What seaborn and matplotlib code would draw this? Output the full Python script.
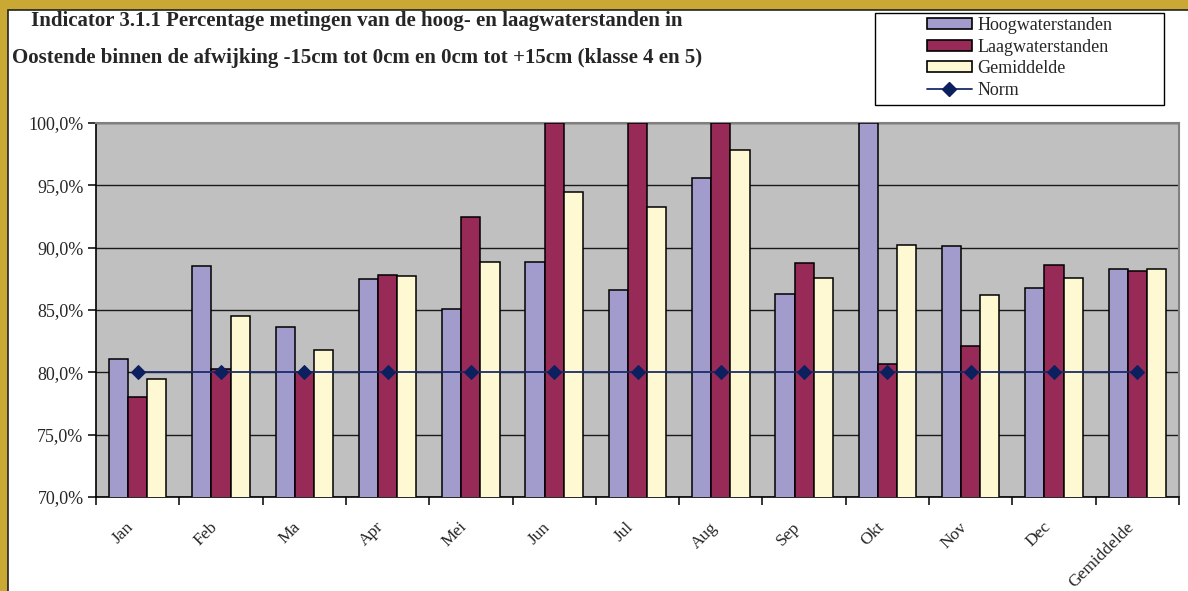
import matplotlib
matplotlib.use("Agg")
import matplotlib.pyplot as plt
import matplotlib.transforms as mtransforms
from matplotlib.patches import Rectangle, Patch
from matplotlib.lines import Line2D
from matplotlib.ticker import FuncFormatter, MultipleLocator, FixedLocator
import numpy as np
import pandas as pd
import seaborn as sns

# data
maanden = ["Jan", "Feb", "Ma", "Apr", "Mei", "Jun", "Jul", "Aug", "Sep", "Okt", "Nov", "Dec", "Gemiddelde"]
hoogwater = [81.1, 88.55, 83.6, 87.5, 85.1, 88.85, 86.6, 95.6, 86.3, 100.0, 90.1, 86.8, 88.3]
laagwater = [78.0, 80.3, 80.0, 87.8, 92.5, 100.0, 100.0, 100.0, 88.8, 80.7, 82.1, 88.6, 88.15]
gemiddelde = [79.5, 84.5, 81.8, 87.7, 88.85, 94.5, 93.3, 97.85, 87.6, 90.2, 86.2, 87.6, 88.3]
norm = [80.0] * 13
reeksen = ["Hoogwaterstanden", "Laagwaterstanden", "Gemiddelde"]
kleuren = ["#A29CCC", "#982A58", "#FEF9D3"]
titel = ["Indicator 3.1.1 Percentage metingen van de hoog- en laagwaterstanden in",
         "Oostende binnen de afwijking -15cm tot 0cm en 0cm tot +15cm (klasse 4 en 5)"]

df = pd.DataFrame({
    "maand": maanden * 3,
    "reeks": [r for r in reeksen for _ in maanden],
    "waarde": hoogwater + laagwater + gemiddelde,
})

sns.set_style("white")
plt.rcParams["font.family"] = ["Liberation Serif", "DejaVu Serif"]

W, H = 1188, 591
fig = plt.figure(figsize=(W / 100, H / 100), dpi=100)
fig.patch.set_facecolor("#C9A933")
# white chart area inside the gold border
fig.add_artist(Rectangle((8 / W, -0.01), 1.0, 1 - 10 / H + 0.01, transform=fig.transFigure,
                         facecolor="white", edgecolor="#222222", linewidth=1.2, zorder=0))

ax = fig.add_axes([96 / W, 1 - 497 / H, (1179 - 96) / W, (497 - 123) / H])
ax.set_facecolor("#C0C0C0")

sns.barplot(data=df, x="maand", y="waarde", hue="reeks", palette=kleuren, order=maanden,
            hue_order=reeksen, width=0.69, edgecolor="black", linewidth=1.1, saturation=1,
            legend=False, ax=ax, zorder=3)
sns.lineplot(x=np.arange(len(maanden)), y=norm, color="#1B2B6B", linewidth=1.3, marker="D",
             markersize=7, markerfacecolor="#0C1F5E", markeredgecolor="#0C1F5E",
             legend=False, ax=ax, zorder=5)

ax.set_ylim(70, 100)
ax.set_xlim(-0.5, len(maanden) - 0.5)
ax.yaxis.set_major_locator(MultipleLocator(5))
ax.yaxis.set_major_formatter(FuncFormatter(lambda v, p: f"{v:.1f}%".replace(".", ",")))
ax.grid(axis="y", color="#1A1A1A", linewidth=1.0, zorder=1)
ax.set_axisbelow(True)
ax.set_xlabel("")
ax.set_ylabel("")

for s in ["top", "right"]:
    ax.spines[s].set_color("#808080")
    ax.spines[s].set_linewidth(1.5)
for s in ["left", "bottom"]:
    ax.spines[s].set_color("black")
    ax.spines[s].set_linewidth(1.2)

# ticks at the category boundaries, labels at the centres
ax.xaxis.set_minor_locator(FixedLocator(np.arange(-0.5, len(maanden), 1.0)))
ax.tick_params(axis="x", which="minor", direction="out", length=6, width=1.1, color="black", bottom=True)
ax.tick_params(axis="x", which="major", length=0, pad=20, labelsize=12.5)
ax.tick_params(axis="y", direction="out", length=6, width=1.1, color="black", left=True, labelsize=13, pad=3)
ax.set_xticks(np.arange(len(maanden)))
ax.set_xticklabels(maanden, rotation=45, ha="right", va="center", rotation_mode="anchor")
shift = mtransforms.ScaledTranslation(-6 / 100, 0, fig.dpi_scale_trans)
for lbl in ax.get_xticklabels():
    lbl.set_transform(lbl.get_transform() + shift)

fig.text(357 / W, 1 - 21 / H, titel[0], ha="center", va="center", fontsize=15, fontweight="bold")
fig.text(357 / W, 1 - 58 / H, titel[1], ha="center", va="center", fontsize=15, fontweight="bold")

# legend box
fig.add_artist(Rectangle((875 / W, 1 - 105 / H), (1164 - 875) / W, 92 / H, transform=fig.transFigure,
                         facecolor="white", edgecolor="black", linewidth=1.0, zorder=2))
handles = [Patch(facecolor=c, edgecolor="black", linewidth=1.2) for c in kleuren]
handles.append(Line2D([], [], color="#1B2B6B", linewidth=1.3, marker="D", markersize=7,
                      markerfacecolor="#0C1F5E", markeredgecolor="#0C1F5E"))
leg = fig.legend(handles, reeksen + ["Norm"], loc="center", bbox_to_anchor=((875 + 1164) / 2 / W, 1 - 58 / H),
                 frameon=False, fontsize=13, handlelength=2.5, handleheight=0.55, handletextpad=0.3,
                 labelspacing=0.25, borderpad=0)
leg.set_zorder(3)

fig.savefig("out.png", dpi=100, facecolor=fig.get_facecolor())
